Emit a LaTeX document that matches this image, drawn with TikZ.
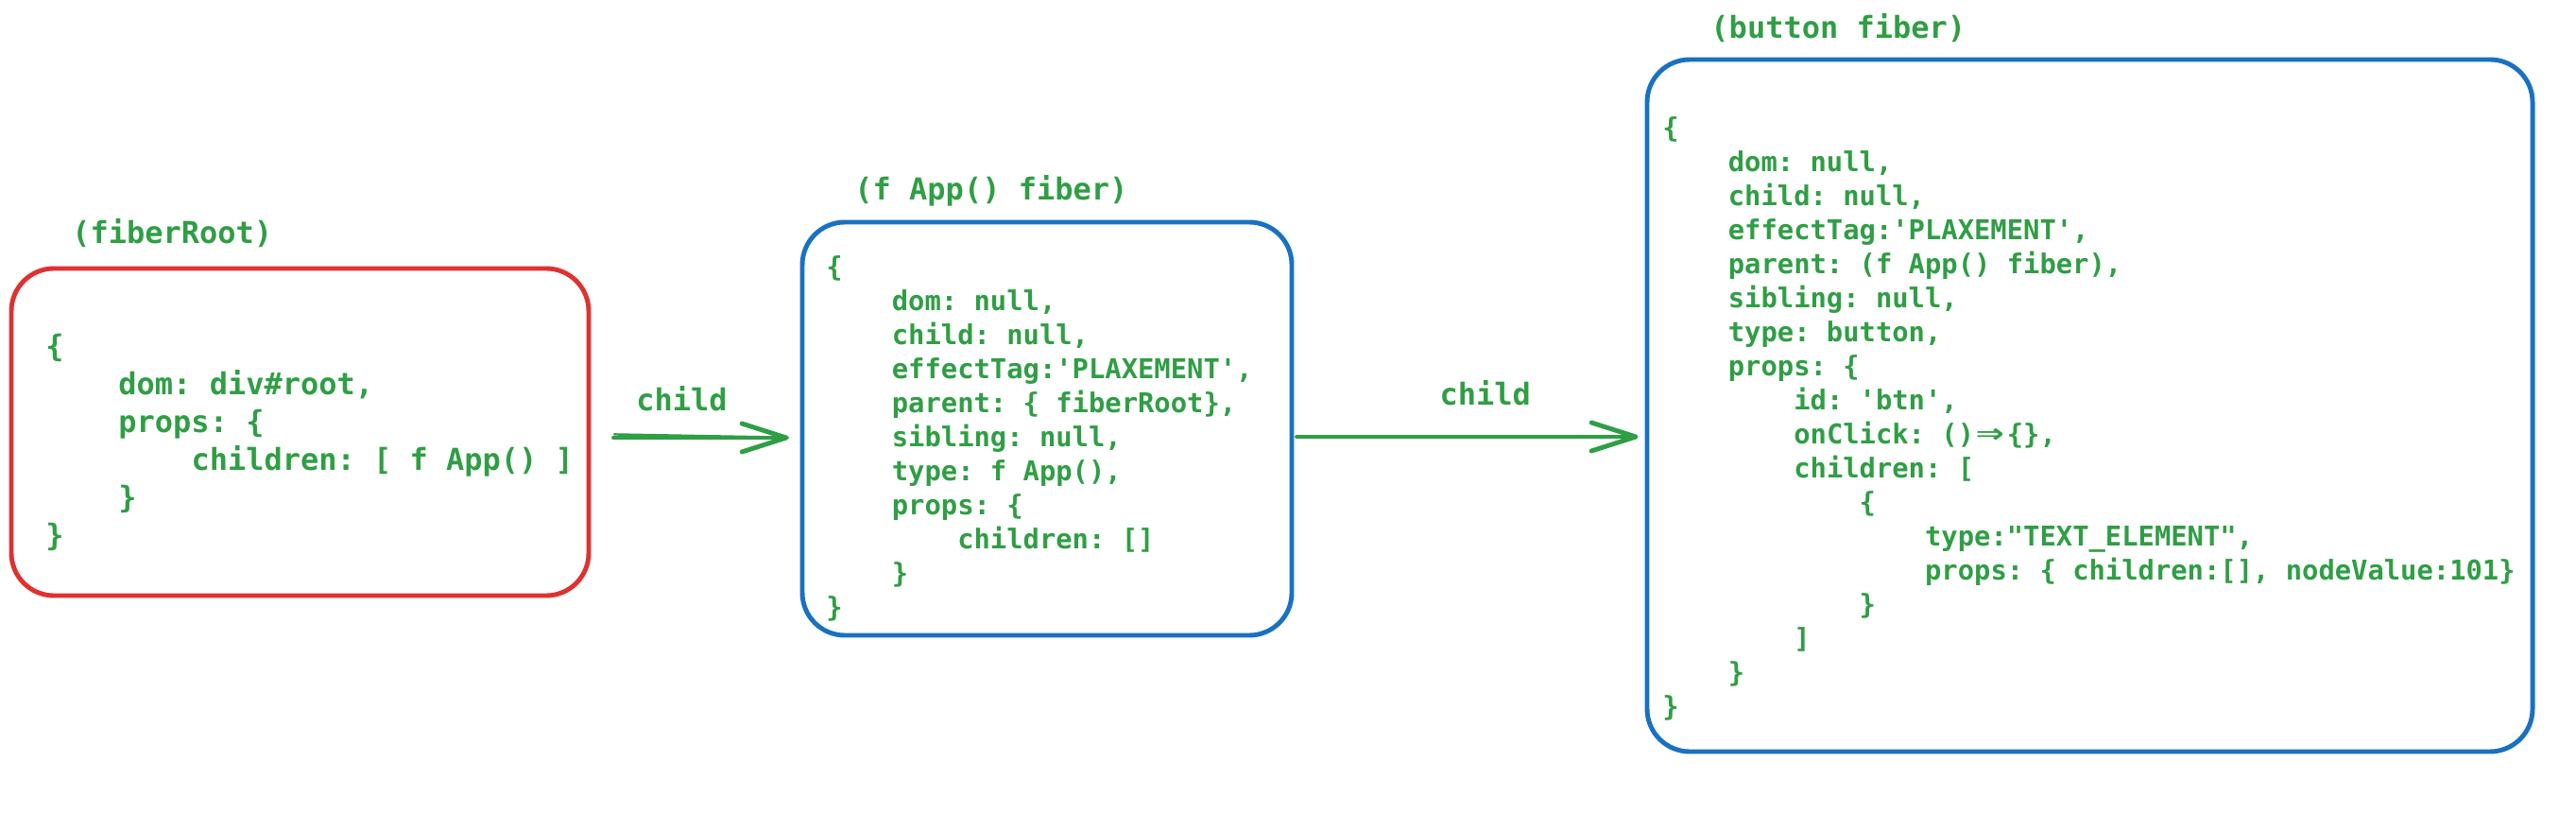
\documentclass[tikz,border=0pt]{standalone}
\usepackage{fontspec}
\setmonofont{DejaVu Sans Mono}
\usetikzlibrary{arrows.meta}
\definecolor{fbgreen}{RGB}{47,158,68}
\definecolor{fbred}{RGB}{224,49,49}
\definecolor{fbblue}{RGB}{25,113,194}
\newcommand{\tb}{\phantom{xxxx}}
\newcommand{\fatarrow}{\makebox[1.204em][c]{\scalebox{1.7}[1.25]{⇒}}}

\begin{document}
\begin{tikzpicture}[line width=1.4pt,>={Straight Barb[length=4.7mm,width=3mm,round]},
  fiberbox/.style={draw,rounded corners=4.5mm,inner sep=0pt},
  sketch/.style={rounded corners=4.5mm,line width=0.7pt},
  bigcode/.style={fbgreen,font=\ttfamily\bfseries\fontsize{9.1}{11.38}\selectfont,align=left,inner sep=0pt},
  smallcode/.style={fbgreen,font=\ttfamily\bfseries\fontsize{8.2}{10.24}\selectfont,align=left,inner sep=0pt},
  childarrow/.style={fbgreen,->,line cap=round}]
  \useasboundingbox (0,0) rectangle (27.26,8.6);
  % the three fibers
  \node[fiberbox,draw=fbred,minimum width=6.11cm,minimum height=3.46cm] (fiberroot) at (3.175,4.03) {};
  \node[fiberbox,draw=fbblue,minimum width=5.18cm,minimum height=4.37cm] (appfiber) at (11.08,4.065) {};
  \node[fiberbox,draw=fbblue,minimum width=9.37cm,minimum height=7.32cm] (btnfiber) at (22.115,4.31) {};
  \draw[sketch,fbred] ([shift={(0.03,-0.02)}]fiberroot.north west) rectangle ([shift={(-0.02,0.03)}]fiberroot.south east);
  \draw[sketch,fbblue] ([shift={(0.02,-0.03)}]appfiber.north west) rectangle ([shift={(-0.03,0.02)}]appfiber.south east);
  \draw[sketch,fbblue] ([shift={(0.03,-0.02)}]btnfiber.north west) rectangle ([shift={(-0.02,0.03)}]btnfiber.south east);
  % titles
  \node[bigcode,anchor=west] (roottitle) at (0.74,6.13) {(fiberRoot)};
  \node[bigcode,anchor=west] (apptitle) at (9.02,6.58) {(f App() fiber)};
  \node[bigcode,anchor=west] (btntitle) at (18.08,8.30) {(button fiber)};
  % contents
  \node[bigcode,anchor=north west] (rootcode) at (0.46,5.09) {\{\\
    \tb dom: div\#root,\\
    \tb props: \{\\
    \tb\tb children: [ f App() ]\\
    \tb \}\\
    \}};
  \node[smallcode,anchor=north west] (appcode) at (8.72,5.92) {\{\\
    \tb dom: null,\\
    \tb child: null,\\
    \tb effectTag:'PLAXEMENT',\\
    \tb parent: \{ fiberRoot\},\\
    \tb sibling: null,\\
    \tb type: f App(),\\
    \tb props: \{\\
    \tb\tb children: []\\
    \tb \}\\
    \}};
  \node[smallcode,anchor=north west] (btncode) at (17.57,7.39) {\{\\
    \tb dom: null,\\
    \tb child: null,\\
    \tb effectTag:'PLAXEMENT',\\
    \tb parent: (f App() fiber),\\
    \tb sibling: null,\\
    \tb type: button,\\
    \tb props: \{\\
    \tb\tb id: 'btn',\\
    \tb\tb onClick: ()\fatarrow\{\},\\
    \tb\tb children: [\\
    \tb\tb\tb \{\\
    \tb\tb\tb\tb type:"TEXT\_ELEMENT",\\
    \tb\tb\tb\tb props: \{ children:[], nodeValue:101\}\\
    \tb\tb\tb \}\\
    \tb\tb ]\\
    \tb \}\\
    \}};
  % child links
  \coordinate (rootout) at ([yshift=-0.6mm]fiberroot.east);
  \coordinate (appout) at ([yshift=-0.85mm]appfiber.east);
  \draw[childarrow,shorten <=2.4mm,shorten >=1.2mm] (rootout) -- (rootout -| appfiber.west)
    node[bigcode,pos=0.434,yshift=4.1mm] (rootchild) {child};
  \draw[fbgreen,line width=0.7pt,shorten <=2.4mm,shorten >=1.2mm] ([yshift=0.4mm]rootout) -- (rootout -| appfiber.west);
  \draw[childarrow,shorten <=0.3mm,shorten >=0.7mm] (appout) -- (appout -| btnfiber.west)
    node[bigcode,pos=0.545,yshift=4.6mm] (appchild) {child};
\end{tikzpicture}
\end{document}
